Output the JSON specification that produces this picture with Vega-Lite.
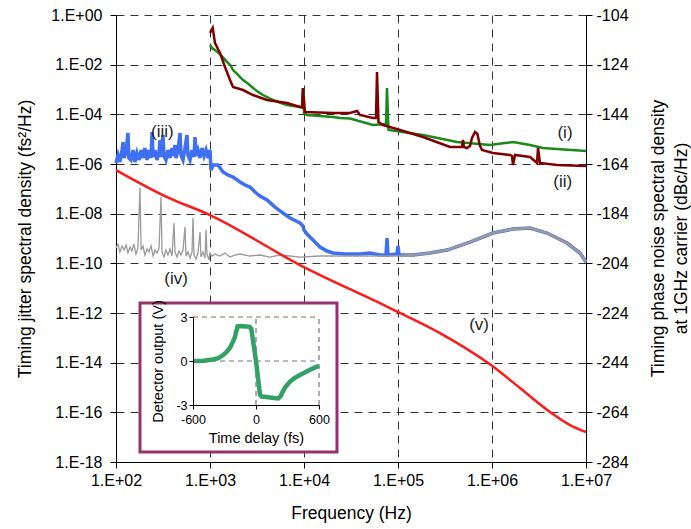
{
  "$schema": "https://vega.github.io/schema/vega-lite/v6.json",
  "width": 470,
  "height": 447,
  "autosize": {"type": "none"},
  "padding": {"left": 116, "top": 15, "right": 105, "bottom": 67},
  "background": "white",
  "config": {
    "view": {"stroke": null},
    "font": "Liberation Sans",
    "axis": {
      "labelFont": "Liberation Sans",
      "titleFont": "Liberation Sans",
      "labelColor": "#000",
      "titleColor": "#000",
      "domainColor": "#000",
      "tickColor": "#000",
      "titleFontWeight": "normal",
      "labelFontSize": 16,
      "titleFontSize": 17.5,
      "labelFlush": false,
      "labelOverlap": false
    }
  },
  "datasets": {
    "green": [{"f":1000,"S":0.0619},{"f":1060,"S":0.045},{"f":1130,"S":0.039},{"f":1300,"S":0.025},{"f":1506,"S":0.0132},{"f":1650,"S":0.0095},{"f":1757,"S":0.0061},{"f":2000,"S":0.0038},{"f":2244,"S":0.0024},{"f":2550,"S":0.0017},{"f":2867,"S":0.00115},{"f":3250,"S":0.0008},{"f":3663,"S":0.0006},{"f":4680,"S":0.000377},{"f":5500,"S":0.0003},{"f":6595,"S":0.000237},{"f":9066,"S":0.000197},{"f":9522,"S":0.000197},{"f":9758,"S":0.00115},{"f":10000,"S":0.000113},{"f":10762,"S":0.0000939},{"f":20345,"S":0.000078},{"f":24155,"S":0.0000711},{"f":30860,"S":0.000068},{"f":54200,"S":0.0000371},{"f":74540,"S":0.0000407},{"f":76380,"S":0.00115},{"f":79230,"S":0.0000234},{"f":184500,"S":0.0000147},{"f":424400,"S":0.00000768},{"f":952100,"S":0.00000581},{"f":1375000,"S":0.000007},{"f":1673000,"S":0.00000768},{"f":2537000,"S":0.00000581},{"f":3487000,"S":0.0000044},{"f":10000000,"S":0.00000333}],
    "maroon": [{"f":1000,"S":0.188},{"f":1068,"S":0.2995},{"f":1130,"S":0.0746},{"f":1278,"S":0.0295},{"f":1444,"S":0.00805},{"f":1633,"S":0.00241},{"f":1757,"S":0.00126},{"f":2244,"S":0.000954},{"f":2867,"S":0.0006},{"f":4040,"S":0.000377},{"f":6595,"S":0.000286},{"f":9066,"S":0.000197},{"f":9522,"S":0.00019},{"f":9758,"S":0.00115},{"f":10247,"S":0.000124},{"f":20345,"S":0.000113},{"f":30860,"S":0.000113},{"f":36630,"S":0.000136},{"f":39420,"S":0.000094},{"f":54200,"S":0.0000711},{"f":58340,"S":0.0000711},{"f":59790,"S":0.00506},{"f":62030,"S":0.0000491},{"f":69240,"S":0.0000371},{"f":105020,"S":0.0000234},{"f":184500,"S":0.0000122},{"f":357500,"S":0.00000483},{"f":479700,"S":0.00000483},{"f":491500,"S":0.00000924},{"f":503600,"S":0.00000483},{"f":542000,"S":0.0000044},{"f":583400,"S":0.0000053},{"f":612600,"S":0.0000111},{"f":659400,"S":0.0000194},{"f":700000,"S":0.0000161},{"f":740000,"S":0.00000581},{"f":782700,"S":0.00000366},{"f":1025000,"S":0.00000277},{"f":1554000,"S":0.0000023},{"f":1633000,"S":0.0000021},{"f":1673000,"S":0.00000091},{"f":1757000,"S":0.0000023},{"f":2537000,"S":0.00000191},{"f":3011000,"S":0.0000011},{"f":3086000,"S":0.0000044},{"f":3240000,"S":0.0000011},{"f":4915000,"S":0.00000091},{"f":10000000,"S":0.000000829}],
    "blue": [{"f":100,"S":1.1e-6},{"f":105,"S":2.3e-6},{"f":110,"S":1.2e-6},{"f":116,"S":3.66e-6},{"f":119,"S":7.68e-6},{"f":122,"S":1.74e-6},{"f":128,"S":3.04e-6},{"f":134,"S":1.77e-5},{"f":137,"S":1.74e-6},{"f":144,"S":1.45e-6},{"f":152,"S":3.66e-6},{"f":159,"S":1.2e-6},{"f":167,"S":2.77e-6},{"f":176,"S":1.45e-6},{"f":185,"S":3.66e-6},{"f":194,"S":1.74e-6},{"f":203,"S":4.4e-6},{"f":214,"S":1.45e-6},{"f":224,"S":3.66e-6},{"f":236,"S":1.74e-6},{"f":242,"S":1.94e-5},{"f":248,"S":1.91e-6},{"f":260,"S":3.66e-6},{"f":273,"S":1.45e-6},{"f":287,"S":3.04e-6},{"f":294,"S":9.24e-6},{"f":301,"S":1.91e-6},{"f":316,"S":1.47e-5},{"f":324,"S":2.1e-6},{"f":340,"S":1.45e-6},{"f":357,"S":3.66e-6},{"f":375,"S":1.74e-6},{"f":394,"S":4.4e-6},{"f":414,"S":2.1e-6},{"f":424,"S":5.81e-6},{"f":435,"S":1.74e-6},{"f":457,"S":3.66e-6},{"f":480,"S":1.77e-5},{"f":491,"S":2.3e-6},{"f":516,"S":1.45e-6},{"f":542,"S":4.4e-6},{"f":569,"S":1.47e-5},{"f":583,"S":2.3e-6},{"f":613,"S":1.45e-6},{"f":644,"S":3.66e-6},{"f":676,"S":1.91e-6},{"f":693,"S":1.22e-5},{"f":710,"S":2.1e-6},{"f":745,"S":3.66e-6},{"f":783,"S":1.74e-6},{"f":822,"S":4.4e-6},{"f":864,"S":2.1e-6},{"f":907,"S":3.66e-6},{"f":952,"S":1.74e-6},{"f":1000,"S":3.66e-6},{"f":1025,"S":5.72e-7},{"f":1076,"S":9.1e-7},{"f":1217,"S":9.1e-7},{"f":1375,"S":4.75e-7},{"f":1554,"S":3.6e-7},{"f":1757,"S":2.99e-7},{"f":2085,"S":1.88e-7},{"f":2357,"S":1.42e-7},{"f":2665,"S":1.18e-7},{"f":3011,"S":7.44e-8},{"f":3404,"S":5.13e-8},{"f":4040,"S":3.54e-8},{"f":4915,"S":1.85e-8},{"f":5978,"S":1.06e-8},{"f":7099,"S":6.67e-9},{"f":9066,"S":4.2e-9},{"f":9758,"S":3.18e-9},{"f":10000,"S":2.19e-9},{"f":10762,"S":1.51e-9},{"f":12464,"S":8.68e-10},{"f":14801,"S":4.53e-10},{"f":17570,"S":3.13e-10},{"f":20345,"S":2.6e-10},{"f":27310,"S":2.37e-10},{"f":39420,"S":2.37e-10},{"f":50360,"S":2.6e-10},{"f":64360,"S":2.16e-10},{"f":74540,"S":2.16e-10},{"f":76380,"S":1.04e-9},{"f":78270,"S":2.16e-10},{"f":97580,"S":2.37e-10},{"f":100000,"S":4.98e-10},{"f":102470,"S":2.16e-10},{"f":144400,"S":2.16e-10},{"f":218960,"S":2.6e-10},{"f":332100,"S":3.43e-10},{"f":583400,"S":7.21e-10},{"f":1025000,"S":1.66e-9},{"f":1673000,"S":2.41e-9},{"f":2537000,"S":2.64e-9},{"f":3846000,"S":1.66e-9},{"f":6283000,"S":6.57e-10},{"f":8634000,"S":2.6e-10},{"f":10000000,"S":1.13e-10}],
    "gray_low": [{"f":100,"S":4.13e-10},{"f":105,"S":5.99e-10},{"f":110,"S":2.85e-10},{"f":116,"S":4.98e-10},{"f":122,"S":3.43e-10},{"f":128,"S":5.46e-10},{"f":134,"S":2.6e-10},{"f":141,"S":4.53e-10},{"f":148,"S":3.13e-10},{"f":155,"S":5.99e-10},{"f":163,"S":2.37e-10},{"f":171,"S":4.13e-10},{"f":180,"S":1.08e-7},{"f":185,"S":3.43e-10},{"f":194,"S":4.98e-10},{"f":203,"S":2.16e-10},{"f":214,"S":3.77e-10},{"f":224,"S":2.85e-10},{"f":236,"S":4.98e-10},{"f":248,"S":1.97e-10},{"f":260,"S":3.43e-10},{"f":273,"S":2.6e-10},{"f":287,"S":4.13e-10},{"f":301,"S":4.68e-8},{"f":309,"S":2.85e-10},{"f":324,"S":1.79e-10},{"f":340,"S":3.43e-10},{"f":357,"S":2.16e-10},{"f":375,"S":3.77e-10},{"f":394,"S":1.97e-10},{"f":414,"S":4.2e-9},{"f":424,"S":2.85e-10},{"f":446,"S":1.79e-10},{"f":468,"S":3.13e-10},{"f":491,"S":2.16e-10},{"f":516,"S":3.43e-10},{"f":542,"S":2.9e-9},{"f":555,"S":1.97e-10},{"f":583,"S":2.85e-10},{"f":613,"S":1.63e-10},{"f":644,"S":2.85e-10},{"f":659,"S":6.67e-9},{"f":676,"S":2.16e-10},{"f":710,"S":1.49e-10},{"f":745,"S":2.6e-10},{"f":783,"S":1.82e-9},{"f":802,"S":1.79e-10},{"f":842,"S":2.85e-10},{"f":885,"S":1.63e-10},{"f":907,"S":2.19e-9},{"f":929,"S":2.37e-10},{"f":976,"S":1.36e-10},{"f":1000,"S":2.6e-10},{"f":1050,"S":1.97e-10},{"f":1130,"S":2.37e-10},{"f":1278,"S":1.97e-10},{"f":1444,"S":2.6e-10},{"f":1633,"S":1.79e-10},{"f":1845,"S":2.16e-10},{"f":2085,"S":2.37e-10},{"f":2665,"S":1.97e-10},{"f":3404,"S":2.16e-10},{"f":4348,"S":1.79e-10},{"f":5556,"S":2.16e-10},{"f":7099,"S":1.97e-10},{"f":9066,"S":1.79e-10},{"f":14801,"S":1.97e-10},{"f":24155,"S":1.97e-10},{"f":39420,"S":1.97e-10},{"f":64360,"S":1.97e-10},{"f":105020,"S":1.97e-10}],
    "gray_high": [{"f":105020,"S":1.97e-10},{"f":144400,"S":2.16e-10},{"f":218960,"S":2.6e-10},{"f":332100,"S":3.43e-10},{"f":583400,"S":7.21e-10},{"f":1025000,"S":1.66e-9},{"f":1673000,"S":2.41e-9},{"f":2537000,"S":2.64e-9},{"f":3846000,"S":1.66e-9},{"f":6283000,"S":6.57e-10},{"f":8634000,"S":2.6e-10},{"f":10000000,"S":1.13e-10}],
    "red": [{"f":100,"S":5.72e-7},{"f":349,"S":4.68e-8},{"f":1000,"S":8.81e-9},{"f":9066,"S":8.54e-11},{"f":82190,"S":1.58e-12},{"f":279800,"S":1.56e-13},{"f":975800,"S":8.02e-15},{"f":1986000,"S":9.5e-16},{"f":4140000,"S":1.03e-16},{"f":6757000,"S":3.07e-17},{"f":10000000,"S":1.61e-17}],
    "labels": [{"label":"(i)","f":5980000,"S":1.77e-5},{"label":"(ii)","f":5650000,"S":1.94e-7},{"label":"(iii)","f":311,"S":2.0e-5},{"label":"(iv)","f":435,"S":2.27e-11},{"label":"(v)","f":728000,"S":3.27e-13}],
    "inset": [{"t":-600,"v":0},{"t":-500,"v":0.02},{"t":-410,"v":0.1},{"t":-360,"v":0.2},{"t":-314,"v":0.4},{"t":-280,"v":0.62},{"t":-248,"v":0.9},{"t":-220,"v":1.3},{"t":-200,"v":1.65},{"t":-185,"v":2.1},{"t":-175,"v":2.36},{"t":-150,"v":2.38},{"t":-100,"v":2.36},{"t":-60,"v":2.33},{"t":-45,"v":2.2},{"t":-20,"v":1.0},{"t":0,"v":0},{"t":20,"v":-1.2},{"t":38,"v":-2.3},{"t":54,"v":-2.42},{"t":100,"v":-2.46},{"t":150,"v":-2.5},{"t":213,"v":-2.55},{"t":235,"v":-2.4},{"t":250,"v":-2.15},{"t":280,"v":-1.78},{"t":324,"v":-1.4},{"t":370,"v":-1.15},{"t":419,"v":-0.95},{"t":470,"v":-0.76},{"t":514,"v":-0.6},{"t":560,"v":-0.45},{"t":600,"v":-0.32}],
    "dbaxis": [{"db":-284},{"db":-104}]
  },
  "layer": [
    {
      "layer": [
        {"data": {"name": "blue"}, "mark": {"type": "line", "color": "#3f6ff2", "strokeWidth": 3.5},
          "encoding": {
            "x": {"field": "f", "type": "quantitative",
              "scale": {"type": "log", "domain": [100, 10000000], "nice": false},
              "axis": {"orient": "bottom", "title": "Frequency (Hz)",
                "values": [100, 1000, 10000, 100000, 1000000, 10000000],
                "labelExpr": "'1.E' + (round(log(datum.value)/LN10) < 0 ? '-' : '+') + pad('' + abs(round(log(datum.value)/LN10)), 2, '0', 'left')",
                "grid": true, "gridDash": [8, 6], "gridColor": "#333", "gridWidth": 1,
                "tickSize": 6, "labelPadding": 4, "titlePadding": 16}},
            "y": {"field": "S", "type": "quantitative",
              "scale": {"type": "log", "domain": [1e-18, 1], "nice": false},
              "axis": {"orient": "left", "title": "Timing jitter spectral density (fs²/Hz)",
                "values": [1, 0.01, 0.0001, 1e-6, 1e-8, 1e-10, 1e-12, 1e-14, 1e-16, 1e-18],
                "labelExpr": "'1.E' + (round(log(datum.value)/LN10) < 0 ? '-' : '+') + pad('' + abs(round(log(datum.value)/LN10)), 2, '0', 'left')",
                "grid": true, "gridDash": [8, 6], "gridColor": "#333", "gridWidth": 1,
                "tickSize": 6, "labelPadding": 8, "titlePadding": 16}}
          }},
        {"data": {"name": "gray_low"}, "mark": {"type": "line", "color": "#9a9a9a", "strokeWidth": 1.3},
          "encoding": {"x": {"field": "f", "type": "quantitative"}, "y": {"field": "S", "type": "quantitative"}}},
        {"data": {"name": "gray_high"}, "mark": {"type": "line", "color": "#9a9a9a", "strokeWidth": 2.5},
          "encoding": {"x": {"field": "f", "type": "quantitative"}, "y": {"field": "S", "type": "quantitative"}}},
        {"data": {"name": "green"}, "mark": {"type": "line", "color": "#1a8a1a", "strokeWidth": 2.5},
          "encoding": {"x": {"field": "f", "type": "quantitative"}, "y": {"field": "S", "type": "quantitative"}}},
        {"data": {"name": "maroon"}, "mark": {"type": "line", "color": "#800000", "strokeWidth": 2.5},
          "encoding": {"x": {"field": "f", "type": "quantitative"}, "y": {"field": "S", "type": "quantitative"}}},
        {"data": {"name": "red"}, "mark": {"type": "line", "color": "#ff1a1a", "strokeWidth": 2.5, "interpolate": "monotone"},
          "encoding": {"x": {"field": "f", "type": "quantitative"}, "y": {"field": "S", "type": "quantitative"}}},
        {"data": {"name": "labels"}, "mark": {"type": "text", "font": "Liberation Sans", "fontSize": 17, "color": "#222", "baseline": "middle", "align": "center"},
          "encoding": {"x": {"field": "f", "type": "quantitative"}, "y": {"field": "S", "type": "quantitative"}, "text": {"field": "label"}}},
        {"data": {"values": [{}]}, "mark": {"type": "rect", "fill": "white", "stroke": "#96336a", "strokeWidth": 3},
          "encoding": {"x": {"datum": 180, "type": "quantitative"}, "x2": {"datum": 22440}, "y": {"datum": 2.52e-12, "type": "quantitative"}, "y2": {"datum": 2.51e-18}}}
      ]
    },
    {
      "data": {"name": "dbaxis"},
      "mark": {"type": "rule", "opacity": 0},
      "encoding": {
        "y": {"field": "db", "type": "quantitative",
          "scale": {"domain": [-284, -104], "nice": false, "zero": false},
          "axis": {"orient": "right", "values": [-284, -264, -244, -224, -204, -184, -164, -144, -124, -104],
            "labelExpr": "'-' + abs(datum.value)",
            "title": ["Timing phase noise spectral density", "at 1GHz carrier (dBc/Hz)"],
            "titleAngle": 270, "titleBaseline": "middle", "titleAlign": "center", "titleLineHeight": 23,
            "titleX": 72, "titleY": 223,
            "grid": false, "tickSize": 6, "labelPadding": 4}}
      }
    },
    {
      "layer": [
        {"data": {"values": [{}]}, "mark": {"type": "rule", "strokeDash": [5, 4], "color": "#777", "strokeWidth": 1.2},
          "encoding": {"x": {"datum": 0, "type": "quantitative"}, "y": {"datum": -3, "type": "quantitative"}, "y2": {"datum": 3}}},
        {"data": {"values": [{}]}, "mark": {"type": "rule", "strokeDash": [5, 4], "color": "#777", "strokeWidth": 1.2},
          "encoding": {"x": {"datum": 600, "type": "quantitative"}, "y": {"datum": -3, "type": "quantitative"}, "y2": {"datum": 3}}},
        {"data": {"values": [{}]}, "mark": {"type": "rule", "strokeDash": [5, 4], "color": "#777", "strokeWidth": 1.2},
          "encoding": {"y": {"datum": 0, "type": "quantitative"}, "x": {"datum": -600, "type": "quantitative"}, "x2": {"datum": 600}}},
        {"data": {"values": [{}]}, "mark": {"type": "rule", "strokeDash": [5, 4], "color": "#777", "strokeWidth": 1.2},
          "encoding": {"y": {"datum": 3, "type": "quantitative"}, "x": {"datum": -600, "type": "quantitative"}, "x2": {"datum": 600}}},
        {"data": {"name": "inset"}, "mark": {"type": "line", "color": "#33a066", "strokeWidth": 4.5},
          "encoding": {
            "x": {"field": "t", "type": "quantitative",
              "scale": {"domain": [-600, 600], "range": [77, 203], "nice": false, "zero": false},
              "axis": {"orient": "bottom", "offset": -57, "values": [-600, 0, 600], "title": "Time delay (fs)",
                "labelExpr": "datum.value < 0 ? '-' + abs(datum.value) : '' + datum.value",
                "grid": false, "zindex": 1, "tickSize": 4, "labelPadding": 4, "titlePadding": 6,
                "labelFontSize": 12.5, "titleFontSize": 14.5}},
            "y": {"field": "v", "type": "quantitative",
              "scale": {"domain": [-3, 3], "range": [390, 302], "nice": false, "zero": false},
              "axis": {"orient": "left", "offset": -77, "values": [-3, 0, 3], "title": "Detector output (V)",
                "labelExpr": "datum.value < 0 ? '-' + abs(datum.value) : '' + datum.value",
                "grid": false, "zindex": 1, "tickSize": 4, "labelPadding": 2, "titlePadding": 10,
                "labelFontSize": 12.5, "titleFontSize": 14.5}}
          }}
      ]
    }
  ],
  "resolve": {"scale": {"x": "independent", "y": "independent"}}
}
